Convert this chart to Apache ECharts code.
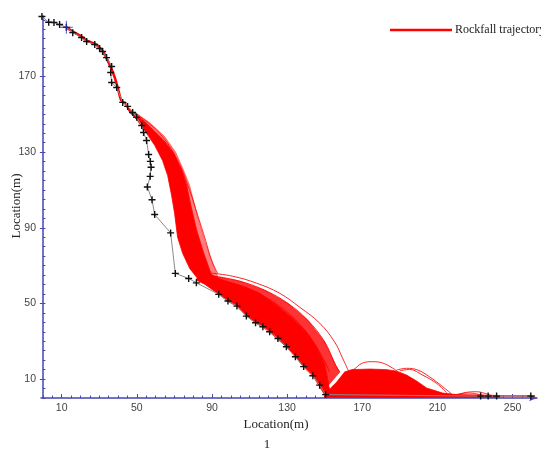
<!DOCTYPE html>
<html><head><meta charset="utf-8">
<script src="https://cdn.jsdelivr.net/npm/echarts@6/dist/echarts.min.js"></script>
<style>html,body{margin:0;padding:0;background:#fff}#c{width:541px;height:454px}</style>
</head><body><div id="c"></div>
<script>
// ---- tick labels ----
const xTickLabels = [10, 50, 90, 130, 170, 210, 250];
const yTickLabels = [10, 50, 90, 130, 170];

// ---- slope profile (x, elevation) ----
const terrainProfile = [
  [-0.5,201.7],[3.1,198.7],[5.9,198.6],[8.9,197.5],[12.5,196.0],[15.9,193.2],[20.6,190.6],
  [23.3,188.5],[27.6,186.9],[30.2,184.8],[31.8,183.2],[33.9,180.0],[36.6,175.3],[36.1,172.1],
  [36.6,166.8],[39.3,164.2],[42.5,156.3],[45.1,154.2],[47.8,151.0],[49.9,148.4],[52.6,144.1],
  [53.6,140.4],[55.2,136.2],[56.3,128.8],[57.2,125.1],[57.6,122.0],[57.1,117.2],[55.6,111.6],
  [58.1,104.8],[59.5,97.0],[68.0,87.3],[70.5,65.9],[77.6,63.2],[81.7,60.9],[93.6,54.8],
  [98.5,51.3],[103.3,48.6],[108.3,43.3],[113.2,39.8],[117.1,37.7],[120.7,35.0],[125.1,31.5],
  [129.6,27.1],[134.4,21.8],[138.8,16.6],[143.7,11.8],[147.3,6.8],[150.5,1.8],
  [233,1.0],[237,1.0],[241.5,1.0],[259.7,1.0]
];
const startPoint = [[12.5,196.0]];

// ---- rockfall trajectories ----
const initialPath = [
  [12.5,196.0],[15.9,193.8],[20.6,191.1],[23.3,189.0],[27.6,187.4],[30.2,185.3],[32.3,182.7],
  [35.5,176.3],[38.2,169.6],[40.0,163.5],[41.8,157.3],[44.4,155.6]
];
// dense bundle falling down the steep face (outline)
const fallBand = [
  [43.0,156.8],[46.2,151.0],[49.9,147.3],[54.2,141.5],[59.5,133.6],[63.7,125.6],[66.4,117.7],
  [68.5,107.2],[70.1,97.7],[71.7,85.0],[74.4,76.5],[78.1,68.6],[81.8,63.9],[85.0,61.2],
  [90.9,62.8],[88.8,67.6],[85.6,76.5],[81.8,88.7],[78.7,101.9],[76.5,112.5],[73.9,120.4],
  [69.6,129.4],[64.8,135.7],[59.5,141.0],[54.2,146.2],[48.8,150.5],[45.1,154.2]
];
// looser spread of paths on the outer side of the falling bundle (outline)
const fallSpread = [
  [48.8,151.0],[56.8,145.7],[64.8,138.3],[70.7,129.9],[74.9,120.4],[78.1,112.5],[80.8,101.9],
  [82.9,94.0],[86.1,83.4],[88.8,75.5],[91.4,68.6],[93.0,64.4],
  [90.9,62.8],[88.8,67.6],[85.6,76.5],[81.8,88.7],[78.7,101.9],[76.5,112.5],[73.9,120.4],
  [69.6,129.4],[64.8,135.7],[59.5,141.0],[54.2,146.2]
];
// dense bundle bouncing down the lower slope (outline)
const slopeBand = [
  [82.4,64.9],[88.8,65.5],[95.7,62.3],[106.3,59.1],[115.4,55.4],[124.4,49.1],[132.9,42.2],
  [140.4,34.8],[145.7,26.9],[150.0,17.9],[152.1,6.9],[153.2,1.6],
  [150.0,1.6],[144.1,11.1],[138.8,16.4],[134.5,21.6],[129.7,26.9],[125.0,31.1],[120.7,34.8],
  [117.0,37.5],[113.2,39.6],[108.5,43.3],[103.1,48.6],[98.3,51.2],[93.6,54.9],[86.1,60.2],[81.8,62.3]
];
// looser spread of paths above the slope bundle (outline)
const slopeSpread = [
  [88.8,65.5],[91.4,64.4],[104.7,61.8],[118.0,57.0],[130.3,50.1],[140.9,41.2],[150.0,29.6],
  [155.8,17.4],[158.0,13.7],[152.1,6.9],[150.0,17.9],[145.7,26.9],[140.4,34.8],[132.9,42.2],
  [124.4,49.1],[115.4,55.4],[106.3,59.1],[95.7,62.3]
];
// dense bundle on the run-out floor (outline)
const floorBlock = [
  [150.0,1.0],[153.2,5.3],[156.4,8.4],[160.6,13.7],[164.3,15.0],[173.9,15.3],[183.0,15.0],
  [188.3,14.2],[193.6,12.1],[198.9,9.0],[204.2,5.3],[212.8,2.6],[220.2,1.8],[232.5,1.6],
  [243.1,1.3],[243.1,0.3],[150.0,0.3]
];
const outlierFall = [[48.8,151.0],[62.2,139.9],[71.7,125.6],[78.1,109.8],[82.4,96.6],[86.6,83.4],[89.8,72.8],[93.0,66.0]];
const arcA  = [[89.8,66.0],[101.0,64.4],[113.8,60.7],[126.0,55.4],[136.7,48.0],[147.3,39.6],[155.3,29.6],[159.5,21.1],[162.7,14.2]];
const arcA2 = [[91.4,64.4],[104.7,61.8],[118.0,57.0],[130.3,50.1],[140.9,41.2],[150.0,29.6],[155.8,17.4],[158.0,13.7]];
const arcA3 = [[88.8,63.3],[104.7,59.6],[116.4,54.4],[128.7,46.5],[139.3,35.9],[147.3,24.3],[152.6,13.7]];
const arcB  = [[160.6,13.7],[164.9,14.8],[170.2,18.5],[175.5,19.2],[180.8,18.5],[186.2,15.8],[188.8,13.9]];
const arcC  = [[188.3,14.8],[193.6,15.7],[199.5,14.8],[205.8,11.2],[212.8,6.0],[217.6,2.1]];
const arcD  = [[189.9,14.4],[195.2,15.1],[202.1,12.1],[209.6,7.7],[214.9,2.8]];
const arcE  = [[220.7,1.6],[225.5,3.0],[230.9,3.3],[235.1,2.5],[238.8,1.3]];
const arcE2 = [[219.1,1.6],[222.9,2.4],[227.1,2.6],[232.5,1.8],[236.2,1.0]];
const floorPath = [[150.0,1.3],[262.0,1.0]];

const RED = '#ff0000';
const AXIS = '#4646b4';
const NAME = 'Rockfall trajectory';
const serif = '"Liberation Serif", "Times New Roman", serif';
const sans = '"Liberation Sans", Arial, sans-serif';

function minorValues(lo, hi, step){ const v=[]; for(let t=lo; t<=hi+1e-9; t+=step) v.push(+t.toFixed(4)); return v; }

function polygonSeries(points, fill){
  return {
    type:'custom', name:NAME, coordinateSystem:'cartesian2d', xAxisIndex:0, yAxisIndex:0,
    data:[points[0]], silent:true, z:2, itemStyle:{color:RED},
    renderItem:function(params, api){
      return {type:'polygon', shape:{points: points.map(p => api.coord(p))},
              style:{fill:fill || RED, stroke:fill || RED, lineWidth:0.8}};
    }
  };
}
function arcSeries(points, w, op){
  return {type:'line', name:NAME, data:points, smooth:0.4, symbol:'none', z:3, silent:true,
    lineStyle:{color:RED, width:w, opacity:op}, itemStyle:{color:RED}};
}

const plus = 'path://M4,0h2v4h4v2h-4v4h-2v-4h-4v-2h4z';
const thinPlus = 'path://M9.2,0h1.6v9.2h9.2v1.6h-9.2v9.2h-1.6v-9.2h-9.2v-1.6h9.2z';

const chart = echarts.init(document.getElementById('c'), null, {renderer:'canvas'});
chart.setOption({
  animation:false,
  backgroundColor:'#fff',
  grid:{left:41, right:4, top:16, bottom:56, containLabel:false},
  legend:{
    data:[NAME], left:390, top:24, padding:0, icon:'rect', itemWidth:62, itemHeight:2.5, itemGap:0,
    textStyle:{fontFamily:serif, fontSize:12, color:'#222', padding:[0,0,0,-2]},
    selectedMode:false
  },
  xAxis:[
    {type:'value', min:-1, max:263, position:'bottom',
     axisLine:{show:true, lineStyle:{color:AXIS, width:1.5}, symbol:['none','arrow'], symbolSize:[5,8]},
     axisTick:{show:true, inside:true, length:4, customValues:xTickLabels, lineStyle:{color:AXIS}},
     axisLabel:{customValues:xTickLabels, margin:5, color:'#444', fontFamily:sans, fontSize:10.5},
     splitLine:{show:false}},
    {type:'value', min:-1, max:263, position:'bottom',
     axisLine:{show:false},
     axisTick:{show:true, inside:true, length:2.5, customValues:minorValues(0,260,5), lineStyle:{color:AXIS}},
     axisLabel:{show:false}, splitLine:{show:false}}
  ],
  yAxis:[
    {type:'value', min:0, max:202, position:'left',
     axisLine:{show:true, lineStyle:{color:AXIS, width:1.5}},
     axisTick:{show:true, inside:false, length:3, customValues:yTickLabels, lineStyle:{color:AXIS}},
     axisLabel:{customValues:yTickLabels, margin:5, color:'#444', fontFamily:sans, fontSize:10.5},
     splitLine:{show:false}},
    {type:'value', min:0, max:202, position:'left',
     axisLine:{show:false},
     axisTick:{show:true, inside:true, length:2.5, customValues:minorValues(0,200,5), lineStyle:{color:AXIS}},
     axisLabel:{show:false}, splitLine:{show:false}}
  ],
  graphic:[
    {type:'text', x:276, y:425, silent:true,
     style:{text:'Location(m)', font:'13px ' + serif, fill:'#222', align:'center', verticalAlign:'middle'}},
    {type:'text', x:267, y:445, silent:true,
     style:{text:'1', font:'13px ' + serif, fill:'#222', align:'center', verticalAlign:'middle'}},
    {type:'text', x:17, y:206, rotation:Math.PI/2, silent:true,
     style:{text:'Location(m)', font:'13px ' + serif, fill:'#222', align:'center', verticalAlign:'middle'}}
  ],
  series:[
    {type:'line', name:NAME, data:initialPath, smooth:0.3, symbol:'none', z:3,
     lineStyle:{color:RED, width:2.5}, itemStyle:{color:RED}},
    polygonSeries(fallSpread, 'rgba(255,0,0,0.5)'),
    polygonSeries(slopeSpread, 'rgba(255,0,0,0.8)'),
    polygonSeries(fallBand),
    polygonSeries(slopeBand),
    polygonSeries(floorBlock),
    arcSeries(outlierFall, 1, 0.8),
    arcSeries(arcA, 1, 0.85),
    arcSeries(arcA2, 1, 0.85),
    arcSeries(arcA3, 1, 0.85),
    arcSeries(arcB, 1, 0.85),
    arcSeries(arcC, 1, 0.85),
    arcSeries(arcD, 1, 0.85),
    arcSeries(arcE, 1, 0.85),
    arcSeries(arcE2, 1, 0.85),
    arcSeries(floorPath, 1.5, 0.9),
    {type:'line', name:'Slope profile', data:terrainProfile, z:4, silent:true,
     symbol:plus, symbolSize:7, showAllSymbol:true,
     lineStyle:{color:'#8a8a8a', width:1}, itemStyle:{color:'#111'}},
    {type:'scatter', name:'Release point', data:startPoint, z:5, silent:true,
     symbol:thinPlus, symbolSize:13, itemStyle:{color:'#2b2bd6'}}
  ]
});
</script>
</body></html>
